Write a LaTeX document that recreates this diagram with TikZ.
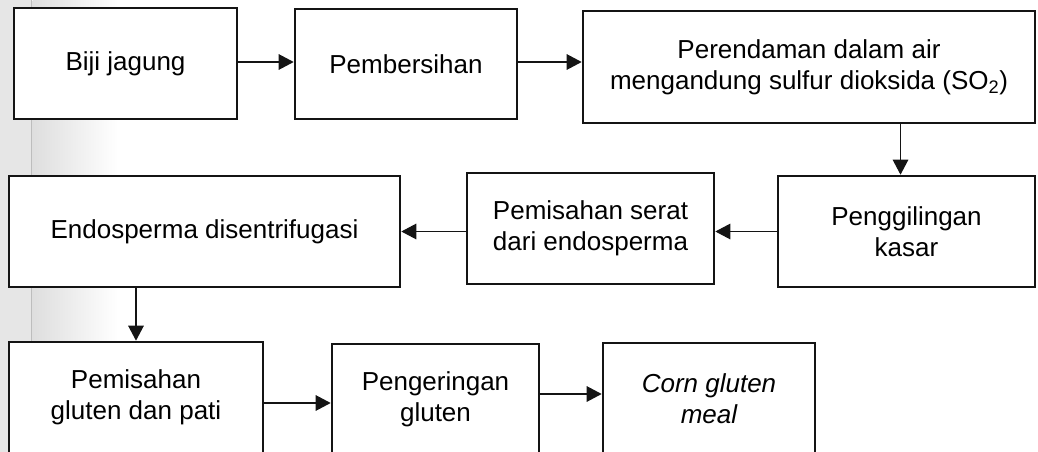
\documentclass[tikz,border=0pt]{standalone}
\usepackage{fontspec}
\setmainfont{Liberation Sans}
\usetikzlibrary{arrows.meta}
\definecolor{stripgray}{HTML}{E6E6E6}
\definecolor{stripline}{HTML}{BDBDBD}
\definecolor{shadegray}{HTML}{DEDEDE}
\definecolor{boxline}{HTML}{141414}
\begin{document}
\begin{tikzpicture}[x=1pt,y=-1pt,
  box/.style={draw=boxline, line width=2.6pt, fill=white, align=center,
    inner sep=0pt, font=\fontsize{26}{31}\selectfont},
  flow/.style={draw=boxline, line width=1.4pt, -{Triangle[length=15pt,width=15.5pt]}}]
\useasboundingbox (0,0) rectangle (1038,452);
% page shadow on the left
\fill[stripgray] (0,0) rectangle (31,452);
\shade[left color=shadegray, right color=white] (32.5,0) rectangle (118,452);
\draw[stripline, line width=1.6pt] (31.5,0) -- (31.5,452);
% boxes
\node[box, minimum width=223pt, minimum height=111pt] (b1) at (125.5,63.5) {Biji jagung};
\node[box, minimum width=222pt, minimum height=110pt] (b2) at (406,64) {Pembersihan};
\node[box, minimum width=452pt, minimum height=112pt] (b3) at (809,67)
  {Perendaman dalam air\\mengandung sulfur dioksida (SO\textsubscript{2})};
\node[box, minimum width=257pt, minimum height=111pt] (b4) at (906.5,231.5) {Penggilingan\\kasar};
\node[box, minimum width=247pt, minimum height=111pt] (b5) at (590.5,228.5) {Pemisahan serat\\dari endosperma};
\node[box, minimum width=391pt, minimum height=111pt] (b6) at (204.5,231.5) {Endosperma disentrifugasi};
\node[box, minimum width=254pt, minimum height=111pt] (b7) at (136,397.5) {Pemisahan\\gluten dan pati};
\node[box, minimum width=207pt, minimum height=111pt] (b8) at (435.5,399.5) {Pengeringan\\gluten};
\node[box, minimum width=212pt, minimum height=111pt] (b9) at (709,398.5) {\itshape Corn gluten\\\itshape meal};
% connectors
\draw[flow] ([yshift=1.5pt]b1.east) -- ([yshift=1.5pt]b1.east -| b2.west);
\draw[flow] ([yshift=2pt]b2.east) -- ([yshift=2pt]b2.east -| b3.west);
\draw[flow] ([xshift=-6pt]b4.north |- b3.south) -- ([xshift=-6pt]b4.north);
\draw[flow] (b4.west) -- (b4.west -| b5.east);
\draw[flow] (b5.west |- b6.east) -- (b6.east);
\draw[flow] (b7.north |- b6.south) -- (b7.north);
\draw[flow] ([yshift=-5.5pt]b7.east) -- ([yshift=-5.5pt]b7.east -| b8.west);
\draw[flow] ([yshift=5.5pt]b8.east) -- ([yshift=5.5pt]b8.east -| b9.west);
\end{tikzpicture}
\end{document}
